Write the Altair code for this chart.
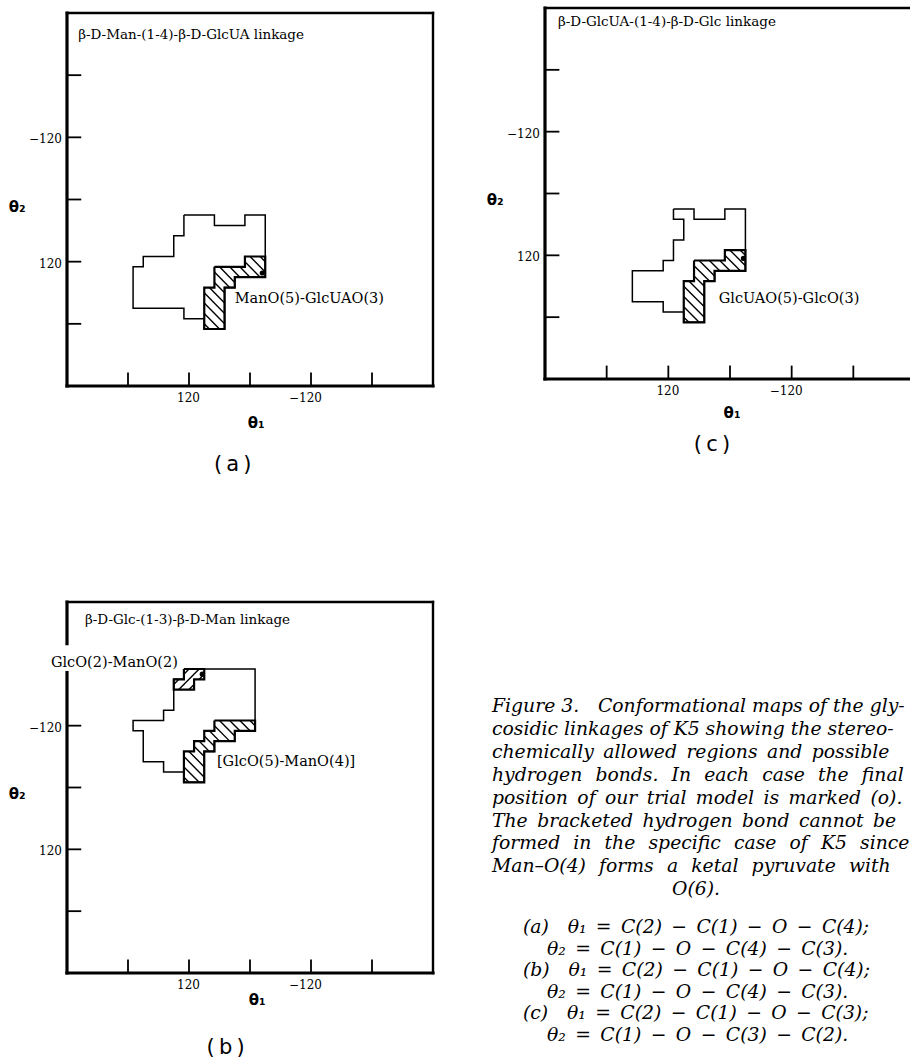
import altair as alt
import pandas as pd

# ---------------------------------------------------------------- data
DOMAIN = [0, 360]
TICK_VALUES = [60, 120, 180, 240, 300]
TICK_LABEL_VALUES = [120, 240]
TICK_LABEL_TEXT = ["120", "\u2212120"]

# (a) beta-D-Man-(1-4)-beta-D-GlcUA : allowed region, H-bond region, model
A_REGION_X = [115, 145, 145, 175, 175, 195, 195, 165, 165, 155, 155, 135, 135, 115, 115, 65, 65, 75, 75, 105, 105, 115]
A_REGION_Y = [165, 165, 155, 155, 165, 165, 105, 105, 95, 95, 55, 55, 65, 65, 75, 75, 115, 115, 125, 125, 145, 145]
A_HBOND_X = [145, 175, 175, 195, 195, 165, 165, 155, 155, 135, 135, 145]
A_HBOND_Y = [115, 115, 125, 125, 105, 105, 95, 95, 55, 55, 95, 95]
A_MODEL = (192, 109)

# (c) beta-D-GlcUA-(1-4)-beta-D-Glc
C_REGION_X = [125, 145, 145, 175, 175, 195, 195, 165, 165, 155, 155, 135, 135, 115, 115, 85, 85, 115, 115, 125, 125, 135, 135, 125]
C_REGION_Y = [165, 165, 155, 155, 165, 165, 105, 105, 95, 95, 55, 55, 65, 65, 75, 75, 105, 105, 115, 115, 135, 135, 155, 155]
C_HBOND_X = [145, 175, 175, 195, 195, 165, 165, 155, 155, 135, 135, 145]
C_HBOND_Y = [115, 115, 125, 125, 105, 105, 95, 95, 55, 55, 95, 95]
C_MODEL = (193, 117)

# (b) beta-D-Glc-(1-3)-beta-D-Man
B_REGION_X = [115, 185, 185, 165, 165, 145, 145, 135, 135, 115, 115, 95, 95, 75, 75, 65, 65, 95, 95, 105, 105, 115]
B_REGION_Y = [295, 295, 235, 235, 225, 225, 215, 215, 185, 185, 195, 195, 205, 205, 235, 235, 245, 245, 255, 255, 285, 285]
B_HBOND1_X = [145, 185, 185, 165, 165, 145, 145, 135, 135, 115, 115, 125, 125, 135, 135, 145]
B_HBOND1_Y = [245, 245, 235, 235, 225, 225, 215, 215, 185, 185, 215, 215, 225, 225, 235, 235]
B_HBOND2_X = [115, 135, 135, 125, 125, 105, 105, 115]
B_HBOND2_Y = [295, 295, 285, 285, 275, 275, 285, 285]
B_MODEL = (133, 290)

# caption words, set loose (en / en+thin spaces) to mimic the justified column
SP = " "
EN = "\u2002"
WIDE = "\u2002\u2009"
CAPTION_LINES = [
    "Figure 3." + EN + EN + "Conformational maps of the gly-",
    SP.join(["cosidic", "linkages", "of", "K5", "showing", "the", "stereo-"]),
    EN.join(["chemically", "allowed", "regions", "and", "possible"]),
    WIDE.join(["hydrogen", "bonds.", "In", "each", "case", "the", "final"]),
    EN.join(["position", "of", "our", "trial", "model", "is", "marked", "(o)."]),
    EN.join(["The", "bracketed", "hydrogen", "bond", "cannot", "be"]),
    WIDE.join(["formed", "in", "the", "specific", "case", "of", "K5", "since"]),
    WIDE.join(["Man\u2013O(4)", "forms", "a", "ketal", "pyruvate", "with"]),
]
CAPTION_LAST = "O(6)."
EQUATION_LINES = [
    EN.join(["(a)", "", "\u03b8\u2081", "=", "C(2)", "\u2212", "C(1)", "\u2212", "O", "\u2212", "C(4);"]),
    EN.join(["\u03b8\u2082", "=", "C(1)", "\u2212", "O", "\u2212", "C(4)", "\u2212", "C(3)."]),
    EN.join(["(b)", "", "\u03b8\u2081", "=", "C(2)", "\u2212", "C(1)", "\u2212", "O", "\u2212", "C(4);"]),
    EN.join(["\u03b8\u2082", "=", "C(1)", "\u2212", "O", "\u2212", "C(4)", "\u2212", "C(3)."]),
    EN.join(["(c)", "", "\u03b8\u2081", "=", "C(2)", "\u2212", "C(1)", "\u2212", "O", "\u2212", "C(3);"]),
    EN.join(["\u03b8\u2082", "=", "C(1)", "\u2212", "O", "\u2212", "C(3)", "\u2212", "C(2)."]),
]

SERIF = "DejaVu Serif"
SANS = "DejaVu Sans"


# ---------------------------------------------------------------- helpers
def closed_path(xs, ys):
    n = len(xs)
    return pd.DataFrame({
        "i": list(range(n + 1)),
        "x": list(xs) + [xs[0]],
        "y": list(ys) + [ys[0]],
    })


def hatch_segments(xs, ys, direction, step=10, phase=5):
    """Clip a family of parallel diagonals to a rectilinear polygon."""
    pts = list(zip(xs, ys))
    edges = list(zip(pts, pts[1:] + pts[:1]))
    back = direction == "back"          # "\" lines: x + y = c ; "/" lines: y - x = c
    keys = [(x + y) if back else (y - x) for x, y in pts]
    lo, hi = min(keys), max(keys)
    c = (lo // step) * step + phase
    rows = []
    while c < hi:
        ts = []
        for (x1, y1), (x2, y2) in edges:
            if x1 == x2:
                yy = c - x1 if back else x1 + c
                if min(y1, y2) <= yy < max(y1, y2):
                    ts.append(x1)
            else:
                xx = c - y1 if back else y1 - c
                if min(x1, x2) <= xx < max(x1, x2):
                    ts.append(xx)
        ts.sort()
        for a, b in zip(ts[0::2], ts[1::2]):
            rows.append({
                "x": a, "y": (c - a) if back else (a + c),
                "x2": b, "y2": (c - b) if back else (b + c),
            })
        c += step
    return pd.DataFrame(rows)


def panel(px, py, region, hbonds, model, texts, cover=None):
    sx = alt.Scale(domain=DOMAIN, range=px)
    sy = alt.Scale(domain=DOMAIN, range=py)

    def X(f):
        return alt.X(f, type="quantitative", scale=sx, axis=None)

    def Y(f):
        return alt.Y(f, type="quantitative", scale=sy, axis=None)

    layers = []

    # frame: heavy axes on left and bottom, lighter on top and right
    heavy = pd.DataFrame({"x": [0, 0], "y": [0, 0], "x2": [0, 360], "y2": [360, 0]})
    light = pd.DataFrame({"x": [0, 360], "y": [360, 0], "x2": [360, 360], "y2": [360, 360]})
    layers.append(alt.Chart(heavy).mark_rule(color="black", strokeWidth=3.2, strokeCap="square")
                  .encode(x=X("x"), y=Y("y"), x2="x2", y2="y2"))
    layers.append(alt.Chart(light).mark_rule(color="black", strokeWidth=2.4, strokeCap="square")
                  .encode(x=X("x"), y=Y("y"), x2="x2", y2="y2"))

    # inward ticks
    yt = pd.DataFrame({"x": [0] * 5, "x2": [14] * 5, "y": TICK_VALUES})
    xt = pd.DataFrame({"x": TICK_VALUES, "y": [0] * 5, "y2": [13] * 5})
    layers.append(alt.Chart(yt).mark_rule(color="black", strokeWidth=1.8)
                  .encode(x=X("x"), x2="x2", y=Y("y")))
    layers.append(alt.Chart(xt).mark_rule(color="black", strokeWidth=1.8)
                  .encode(x=X("x"), y=Y("y"), y2="y2"))

    # tick labels
    yl = pd.DataFrame({"x": [0, 0], "y": TICK_LABEL_VALUES, "t": TICK_LABEL_TEXT})
    xl = pd.DataFrame({"x": TICK_LABEL_VALUES, "y": [0, 0], "t": TICK_LABEL_TEXT})
    layers.append(alt.Chart(yl).mark_text(font=SERIF, fontSize=12, align="right", baseline="middle",
                                          dx=-5, dy=2, color="black")
                  .encode(x=X("x"), y=Y("y"), text="t:N"))
    layers.append(alt.Chart(xl).mark_text(font=SERIF, fontSize=12, align="right", baseline="middle",
                                          dx=11, dy=12, color="black")
                  .encode(x=X("x"), y=Y("y"), text="t:N"))

    # blank strip behind a label that overlaps the axis
    if cover is not None:
        cdf = pd.DataFrame([cover])
        layers.append(alt.Chart(cdf).mark_rect(color="white")
                      .encode(x=X("x"), x2="x2", y=Y("y"), y2="y2"))

    # hydrogen-bond regions: hatching and heavier outline
    for xs, ys, direction in hbonds:
        seg = hatch_segments(xs, ys, direction)
        layers.append(alt.Chart(seg).mark_rule(color="black", strokeWidth=1.4)
                      .encode(x=X("x"), y=Y("y"), x2="x2", y2="y2"))
        layers.append(alt.Chart(closed_path(xs, ys))
                      .mark_line(color="black", strokeWidth=2.2, strokeJoin="miter")
                      .encode(x=X("x"), y=Y("y"), order="i:Q"))

    # stereochemically allowed region
    layers.append(alt.Chart(closed_path(*region))
                  .mark_line(color="black", strokeWidth=1.5, strokeJoin="miter")
                  .encode(x=X("x"), y=Y("y"), order="i:Q"))

    # final position of the trial model
    mdf = pd.DataFrame({"x": [model[0]], "y": [model[1]]})
    layers.append(alt.Chart(mdf).mark_circle(color="black", opacity=1, size=26)
                  .encode(x=X("x"), y=Y("y")))

    # titles and annotations
    for tx, ty, text, style in texts:
        tdf = pd.DataFrame({"x": [tx], "y": [ty], "t": [text]})
        layers.append(alt.Chart(tdf).mark_text(color="black", baseline="middle", **style)
                      .encode(x=X("x"), y=Y("y"), text="t:N"))

    return alt.layer(*layers)


TITLE = dict(font=SERIF, fontSize=13.5, align="left")
NOTE = dict(font=SERIF, fontSize=14.5, align="left")
NOTE_R = dict(font=SERIF, fontSize=14.5, align="right")
AXT = dict(font=SANS, fontSize=15, fontWeight="bold", align="center")
TAG = dict(font=SANS, fontSize=21, align="center")

panel_a = panel(
    [67, 433], [386, 13],
    (A_REGION_X, A_REGION_Y),
    [(A_HBOND_X, A_HBOND_Y, "back")],
    A_MODEL,
    [
        (11, 339, "\u03b2-D-Man-(1-4)-\u03b2-D-GlcUA linkage", TITLE),
        (165, 84, "ManO(5)-GlcUAO(3)", NOTE),
        (-49, 173, "\u03b8\u2082", AXT),
        (186, -36, "\u03b8\u2081", AXT),
        (163, -76, "(\u2009a\u2009)", TAG),
    ],
)

panel_c = panel(
    [545, 915], [379, 8],
    (C_REGION_X, C_REGION_Y),
    [(C_HBOND_X, C_HBOND_Y, "back")],
    C_MODEL,
    [
        (12.6, 346, "\u03b2-D-GlcUA-(1-4)-\u03b2-D-Glc linkage", TITLE),
        (169, 78, "GlcUAO(5)-GlcO(3)", NOTE),
        (-48.5, 174, "\u03b8\u2082", AXT),
        (182, -33, "\u03b8\u2081", AXT),
        (162.5, -64, "(\u2009c\u2009)", TAG),
    ],
)

panel_b = panel(
    [67, 433], [973, 602],
    (B_REGION_X, B_REGION_Y),
    [(B_HBOND1_X, B_HBOND1_Y, "back"), (B_HBOND2_X, B_HBOND2_Y, "fwd")],
    B_MODEL,
    [
        (17.7, 342.5, "\u03b2-D-Glc-(1-3)-\u03b2-D-Man linkage", TITLE),
        (109, 300.5, "GlcO(2)-ManO(2)", NOTE_R),
        (147.5, 204.7, "[GlcO(5)-ManO(4)]", NOTE),
        (-49, 174, "\u03b8\u2082", AXT),
        (187, -26, "\u03b8\u2081", AXT),
        (156, -73, "(\u2009b\u2009)", TAG),
    ],
    cover={"x": -28, "x2": 110, "y": 293, "y2": 318},
)

# ---------------------------------------------------------------- caption
CAP_X, CAP_TOP, CAP_STEP = 492, 706, 22.9
EQ_X, EQ_INDENT, EQ_TOP, EQ_STEP = 523, 24, 927, 21.6
CAP_SIZE = 18.8

cap = pd.DataFrame({
    "t": CAPTION_LINES,
    "px": [CAP_X] * len(CAPTION_LINES),
    "py": [CAP_TOP + i * CAP_STEP for i in range(len(CAPTION_LINES))],
})
cap_layer = alt.Chart(cap).mark_text(
    font=SERIF, fontSize=CAP_SIZE, fontStyle="italic", align="left", baseline="middle", color="black"
).encode(x=alt.X("px:Q", scale=None), y=alt.Y("py:Q", scale=None), text="t:N")

last = pd.DataFrame({"t": [CAPTION_LAST], "px": [696],
                     "py": [CAP_TOP + len(CAPTION_LINES) * CAP_STEP]})
last_layer = alt.Chart(last).mark_text(
    font=SERIF, fontSize=CAP_SIZE, fontStyle="italic", align="center", baseline="middle", color="black"
).encode(x=alt.X("px:Q", scale=None), y=alt.Y("py:Q", scale=None), text="t:N")

eq = pd.DataFrame({
    "t": EQUATION_LINES,
    "px": [EQ_X + (EQ_INDENT if i % 2 else 0) for i in range(len(EQUATION_LINES))],
    "py": [EQ_TOP + i * EQ_STEP for i in range(len(EQUATION_LINES))],
})
eq_layer = alt.Chart(eq).mark_text(
    font=SERIF, fontSize=CAP_SIZE, fontStyle="italic", align="left", baseline="middle", color="black"
).encode(x=alt.X("px:Q", scale=None), y=alt.Y("py:Q", scale=None), text="t:N")

chart = (
    alt.layer(panel_a, panel_c, panel_b, cap_layer, last_layer, eq_layer)
    .resolve_scale(x="independent", y="independent")
    .properties(width=910, height=1064, padding=0,
                autosize=alt.AutoSizeParams(type="none"), background="white")
    .configure_view(stroke=None)
)

chart.save("out.html", embed_options={"renderer": "svg", "actions": False})
